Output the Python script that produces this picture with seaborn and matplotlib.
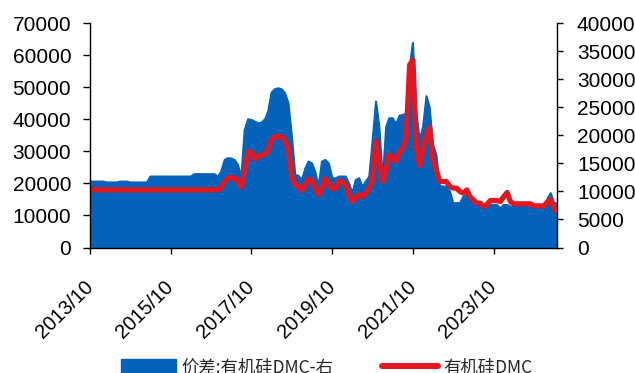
import numpy as np
import pandas as pd
import matplotlib
matplotlib.use("Agg")
import matplotlib.pyplot as plt
import seaborn as sns
from matplotlib.patches import Patch
from matplotlib.lines import Line2D
from matplotlib.font_manager import FontProperties

# ---------------- data (monthly, from 2013/10) ----------------
start_month = "2013-10-01"

dmc_price = (
    [18000] * 39
    + [18840, 20590, 21640, 21840, 21640, 20590, 18840, 23710, 29940, 29650,
       27570, 28390, 28910, 29220, 30260, 33590, 34620, 34620, 34620, 33060,
       31000, 22150, 19560, 19030, 17780, 19560, 21330, 20900, 18520, 16440,
       18520, 21500, 19800, 18300, 18500, 20590, 20590, 19500, 16500, 14350,
       15500, 16500, 15900, 17000, 18500, 21000, 33060, 27000, 20590, 24000,
       28910, 28000, 27000, 29800, 31000, 34000, 57000, 58500, 31500, 25500,
       31000, 35000, 37500, 27350, 24240, 20590, 20590, 20590, 19030, 18530,
       18530, 17470, 16970, 18000, 15910, 14870, 13850, 13850, 12790, 13320,
       14660, 14660, 14660, 14350, 15910, 17160, 14350, 13630, 13630, 13630,
       13630, 13630, 13630, 13000, 13000, 13000, 13000, 14350, 14870, 12290,
       11230]
)

spread = (
    [11760] * 5 + [11600] * 4 + [11760] * 3 + [11600] * 6
    + [12660] * 13 + [13080] * 7
    + [12600, 13550, 15630, 15930, 15870, 15630, 14740, 12500, 21000, 22880,
       22760, 22470, 22170, 22290, 22880, 24240, 27630, 28230, 28410, 28230,
       27520, 25740, 20000, 12960, 12780, 12070, 14150, 15330, 15030, 13550,
       10870, 15330, 15630, 15000, 12500, 12300, 12660, 12660, 12660, 11480,
       9700, 12000, 12370, 10850, 11750, 12660, 19000, 26020, 21500, 12070,
       21500, 23070, 23070, 22000, 23480, 23650, 23900, 32000, 36500, 24000,
       19200, 21550, 27000, 25000, 18300, 16500, 11000, 10870, 10870, 10000,
       7920, 7920, 7920, 9090, 9390, 8500, 7920, 7920, 7920, 7020,
       7310, 7600, 7600, 7600, 7020, 7600, 7600, 7310, 7310, 7310,
       7310, 7310, 7310, 7310, 7020, 7020, 7020, 7020, 8800, 9690,
       7900, 7920]
)

tick_labels = ["2013/10", "2015/10", "2017/10", "2019/10", "2021/10", "2023/10"]
left_ticks = [0, 10000, 20000, 30000, 40000, 50000, 60000, 70000]
right_ticks = [0, 5000, 10000, 15000, 20000, 25000, 30000, 35000, 40000]
legend_labels = ["价差:有机硅DMC-右", "有机硅DMC"]

dates = pd.date_range(start_month, periods=len(dmc_price), freq="MS")
df = pd.DataFrame({"date": dates, "dmc": dmc_price, "spread": spread})

# ---------------- style ----------------
sns.set_theme(style="white")
plt.rcParams["font.family"] = ["Liberation Sans", "Noto Sans CJK SC", "DejaVu Sans"]

BLUE = "#0562BA"
RED = "#E3171F"

fig = plt.figure(figsize=(6.35, 3.73), dpi=100)
ax = fig.add_axes([0.14173, 0.33646, 0.73622, 0.60107])
ax2 = ax.twinx()

# area on right axis
ax2.fill_between(df["date"], df["spread"], 0, color=BLUE, lw=0)
sns.lineplot(data=df, x="date", y="spread", ax=ax2, color=BLUE, lw=1.5)

# line on left axis (drawn above)
sns.lineplot(data=df, x="date", y="dmc", ax=ax, color=RED, lw=3.8)
ax.set_zorder(ax2.get_zorder() + 1)
ax.patch.set_visible(False)

ax.set_xlim(df["date"].iloc[0], df["date"].iloc[-1])
ax.set_ylim(0, 70000)
ax2.set_ylim(0, 40000)
ax.set_yticks(left_ticks)
ax.set_yticklabels([str(v) for v in left_ticks])
ax2.set_yticks(right_ticks)
ax2.set_yticklabels([str(v) for v in right_ticks])

tick_dates = pd.to_datetime(tick_labels, format="%Y/%m")
ax.set_xticks(tick_dates)
ax.set_xticklabels(tick_labels, rotation=45, ha="right", va="center",
                   rotation_mode="anchor")

for a in (ax, ax2):
    a.set_xlabel("")
    a.set_ylabel("")
    for s in a.spines.values():
        s.set_visible(False)
ax.spines["left"].set_visible(True)
ax.spines["bottom"].set_visible(True)
ax2.spines["right"].set_visible(True)
for s in (ax.spines["left"], ax.spines["bottom"], ax2.spines["right"]):
    s.set_color("black")
    s.set_linewidth(1.0)

ax.tick_params(axis="y", direction="out", length=5, width=1, pad=8.5,
               labelsize=15, colors="black", left=True)
ax2.tick_params(axis="y", direction="out", length=4, width=1, pad=10,
                labelsize=15, colors="black", right=True)
ax.tick_params(axis="x", direction="out", length=4.3, width=1, pad=22,
               labelsize=14.5, colors="black", bottom=True)

handles = [Patch(facecolor=BLUE, edgecolor=BLUE),
           Line2D([0], [0], color=RED, lw=4.3)]
fig.legend(handles=handles, labels=legend_labels, loc="center",
           bbox_to_anchor=(0.514, 0.0147), ncol=2, frameon=False,
           prop=FontProperties(family=["Noto Sans CJK SC", "DejaVu Sans"], size=12.5),
           handlelength=3.2, handleheight=0.9, handletextpad=0.3,
           columnspacing=2.8, borderpad=0, borderaxespad=0)

fig.savefig("out.png", dpi=100)
